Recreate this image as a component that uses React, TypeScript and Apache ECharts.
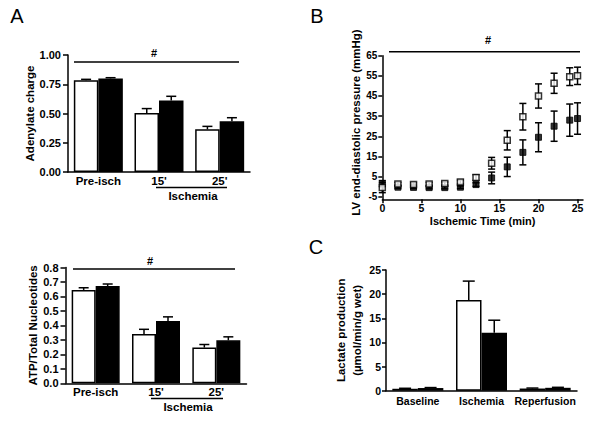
import React, { useEffect, useRef } from "react";
import * as echarts from "echarts";

const FONT = '"Liberation Sans", Arial, Helvetica, sans-serif';

// Panel A
const aCategories = ["Pre-isch", "15'", "25'"];
const adenWhite = [0.785, 0.505, 0.365];
const adenWhiteTop = [0.792, 0.542, 0.39];
const adenBlack = [0.8, 0.612, 0.434];
const adenBlackTop = [0.806, 0.647, 0.464];
const atpWhite = [0.645, 0.341, 0.247];
const atpWhiteTop = [0.66, 0.373, 0.268];
const atpBlack = [0.672, 0.43, 0.297];
const atpBlackTop = [0.686, 0.459, 0.321];

// Panel B
const timeMin = [0, 2, 4, 6, 8, 10, 12, 14, 16, 18, 20, 22, 24, 25];
const lvOpen = [-0.5, 1.3, 1.1, 1.3, 1.5, 2.3, 4.5, 11.6, 23.0, 34.7, 45.0, 51.3, 54.6, 55.0];
const lvOpenSem = [2.5, 0.8, 0.8, 0.8, 0.8, 1.0, 1.4, 2.9, 4.8, 6.6, 6.0, 5.0, 4.4, 4.3];
const lvFilled = [1.5, -0.3, -0.4, -0.5, -0.5, -0.3, 1.0, 4.3, 9.8, 17.0, 24.5, 30.0, 33.0, 33.8];
const lvFilledSem = [1.5, 0.6, 0.6, 0.6, 0.6, 0.6, 0.9, 2.9, 4.8, 6.2, 7.2, 7.5, 8.0, 7.8];
const lvXTicks = [0, 5, 10, 15, 20, 25];
const lvYTicks = [-5, 5, 15, 25, 35, 45, 55, 65];

// Panel C
const cCategories = ["Baseline", "Ischemia", "Reperfusion"];
const lacWhite = [0.4, 18.8, 0.45];
const lacWhiteTop = [0.5, 22.7, 0.55];
const lacBlack = [0.55, 12.0, 0.6];
const lacBlackTop = [0.65, 14.6, 0.7];

const txt = { color: "#000", fontFamily: FONT, fontWeight: "bold" as const };
const LW = 1.5;

function upperErr(offset: number, cap: number) {
  return (params: any, api: any) => {
    const x = api.value(0);
    const p0 = api.coord([x, api.value(1)]);
    const p1 = api.coord([x, api.value(2)]);
    const cx = p0[0] + offset;
    const st = { stroke: "#000", lineWidth: LW };
    return {
      type: "group",
      children: [
        { type: "line", shape: { x1: cx, y1: p0[1], x2: cx, y2: p1[1] }, style: st },
        { type: "line", shape: { x1: cx - cap, y1: p1[1], x2: cx + cap, y2: p1[1] }, style: st },
      ],
    };
  };
}

function bothErr(cap: number) {
  return (params: any, api: any) => {
    const x = api.value(0);
    const m = api.value(1);
    const s = api.value(2);
    const pt = api.coord([x, m + s]);
    const pb = api.coord([x, m - s]);
    const cx = pt[0];
    const st = { stroke: "#000", lineWidth: LW };
    return {
      type: "group",
      children: [
        { type: "line", shape: { x1: cx, y1: pt[1], x2: cx, y2: pb[1] }, style: st },
        { type: "line", shape: { x1: cx - cap, y1: pt[1], x2: cx + cap, y2: pt[1] }, style: st },
        { type: "line", shape: { x1: cx - cap, y1: pb[1], x2: cx + cap, y2: pb[1] }, style: st },
      ],
    };
  };
}

function barPair(gi: number, white: number[], whiteTop: number[], black: number[], blackTop: number[], bw: number, cap: number) {
  return [
    {
      type: "bar", xAxisIndex: gi, yAxisIndex: gi, data: white, barWidth: bw, barGap: "0%",
      itemStyle: { color: "#fff", borderColor: "#000", borderWidth: LW },
    },
    {
      type: "bar", xAxisIndex: gi, yAxisIndex: gi, data: black, barWidth: bw, barGap: "0%",
      itemStyle: { color: "#000", borderColor: "#000", borderWidth: LW },
    },
    {
      type: "custom", xAxisIndex: gi, yAxisIndex: gi, renderItem: upperErr(-bw / 2, cap),
      data: white.map((v, i) => [i, v, whiteTop[i]]), z: 5,
    },
    {
      type: "custom", xAxisIndex: gi, yAxisIndex: gi, renderItem: upperErr(bw / 2, cap),
      data: black.map((v, i) => [i, v, blackTop[i]]), z: 5,
    },
  ];
}

const axisLine = { show: true, onZero: false, lineStyle: { color: "#000", width: LW } };

export default function App() {
  const ref = useRef<HTMLDivElement>(null);
  useEffect(() => {
    if (!ref.current) return;
    const chart = echarts.init(ref.current, undefined, { renderer: "svg" });
    const catX = (gi: number, data: string[], margin: number, size: number) => ({
      type: "category", gridIndex: gi, data,
      axisLine, axisTick: { show: false },
      axisLabel: { ...txt, fontSize: size, margin, interval: 0 },
    });
    const yTick = { show: true, length: 5, lineStyle: { color: "#000", width: LW } };
    const option: any = {
      animation: false,
      backgroundColor: "#fff",
      grid: [
        { left: 68, top: 55, width: 182, height: 117, outerBoundsMode: "none" },
        { left: 65.5, top: 267.5, width: 181, height: 115.8, outerBoundsMode: "none" },
        { left: 382.3, top: 55.7, width: 200.7, height: 143.6, outerBoundsMode: "none" },
        { left: 386, top: 270, width: 191, height: 120.7, outerBoundsMode: "none" },
      ],
      xAxis: [
        catX(0, aCategories, 3, 11.5),
        catX(1, aCategories, 3, 11.5),
        {
          type: "value", gridIndex: 2, min: 0, max: 25.7,
          axisLine, splitLine: { show: false },
          axisTick: { show: true, length: 4, customValues: lvXTicks, lineStyle: { color: "#000", width: LW } },
          axisLabel: { ...txt, fontSize: 10.5, margin: 3, customValues: lvXTicks },
          name: "Ischemic Time (min)", nameLocation: "middle", nameGap: 16,
          nameTextStyle: { ...txt, fontSize: 11 },
        },
        catX(3, cCategories, 5, 10.5),
      ],
      yAxis: [
        {
          type: "value", gridIndex: 0, min: 0, max: 1, interval: 0.25,
          axisLine, axisTick: yTick, splitLine: { show: false },
          axisLabel: { ...txt, fontSize: 11, margin: 7, formatter: (v: number) => v.toFixed(2) },
          name: "Adenylate charge", nameLocation: "middle", nameGap: 31,
          nameTextStyle: { ...txt, fontSize: 11.5 },
        },
        {
          type: "value", gridIndex: 1, min: 0, max: 0.8, interval: 0.1,
          axisLine, axisTick: yTick, splitLine: { show: false },
          axisLabel: { ...txt, fontSize: 11, margin: 7, formatter: (v: number) => v.toFixed(1) },
          name: "ATP/Total Nucleotides", nameLocation: "middle", nameGap: 25,
          nameTextStyle: { ...txt, fontSize: 11.5 },
        },
        {
          type: "value", gridIndex: 2, min: -6.3, max: 65,
          axisLine, splitLine: { show: false },
          axisTick: { ...yTick, length: 4, customValues: lvYTicks },
          axisLabel: { ...txt, fontSize: 10, margin: 5, customValues: lvYTicks },
          name: "LV end-diastolic pressure (mmHg)", nameLocation: "middle", nameGap: 17,
          nameTextStyle: { ...txt, fontSize: 11.5, padding: [0, 0, 0, 10] },
        },
        {
          type: "value", gridIndex: 3, min: 0, max: 25, interval: 5,
          axisLine, axisTick: { ...yTick, length: 4 }, splitLine: { show: false },
          axisLabel: { ...txt, fontSize: 10.5, margin: 5 },
          name: "Lactate production\n(µmol/min/g wet)", nameLocation: "middle", nameGap: 14,
          nameTextStyle: { ...txt, fontSize: 11.5, lineHeight: 16 },
        },
      ],
      series: [
        ...barPair(0, adenWhite, adenWhiteTop, adenBlack, adenBlackTop, 24.5, 5),
        ...barPair(1, atpWhite, atpWhiteTop, atpBlack, atpBlackTop, 24, 5),
        ...barPair(3, lacWhite, lacWhiteTop, lacBlack, lacBlackTop, 25.5, 6),
        {
          type: "custom", xAxisIndex: 2, yAxisIndex: 2, renderItem: bothErr(3.5),
          data: timeMin.map((t, i) => [t, lvFilled[i], lvFilledSem[i]]), z: 3,
        },
        {
          type: "scatter", xAxisIndex: 2, yAxisIndex: 2, symbol: "rect", symbolSize: 6,
          data: timeMin.map((t, i) => [t, lvFilled[i]]),
          itemStyle: { color: "#000", borderColor: "#000", borderWidth: 1 }, z: 4,
        },
        {
          type: "custom", xAxisIndex: 2, yAxisIndex: 2, renderItem: bothErr(3.5),
          data: timeMin.map((t, i) => [t, lvOpen[i], lvOpenSem[i]]), z: 5,
        },
        {
          type: "scatter", xAxisIndex: 2, yAxisIndex: 2, symbol: "rect", symbolSize: 6,
          data: timeMin.map((t, i) => [t, lvOpen[i]]),
          itemStyle: { color: "#fff", borderColor: "#000", borderWidth: 1.5 }, z: 6,
        },
      ],
      graphic: [
        { type: "text", x: 17, y: 16, style: { text: "A", fontSize: 20, fontFamily: FONT, fill: "#000", align: "center", verticalAlign: "middle" } },
        { type: "text", x: 317, y: 16, style: { text: "B", fontSize: 20, fontFamily: FONT, fill: "#000", align: "center", verticalAlign: "middle" } },
        { type: "text", x: 316, y: 247, style: { text: "C", fontSize: 20, fontFamily: FONT, fill: "#000", align: "center", verticalAlign: "middle" } },
        // significance bars
        { type: "line", shape: { x1: 74, y1: 62, x2: 239, y2: 62 }, style: { stroke: "#000", lineWidth: LW } },
        { type: "text", x: 154, y: 53, style: { text: "#", fontSize: 11, fontWeight: "bold", fontFamily: FONT, fill: "#000", align: "center", verticalAlign: "middle" } },
        { type: "line", shape: { x1: 73, y1: 269, x2: 235, y2: 269 }, style: { stroke: "#000", lineWidth: LW } },
        { type: "text", x: 150, y: 261, style: { text: "#", fontSize: 11, fontWeight: "bold", fontFamily: FONT, fill: "#000", align: "center", verticalAlign: "middle" } },
        { type: "line", shape: { x1: 389, y1: 51.7, x2: 580, y2: 51.7 }, style: { stroke: "#000", lineWidth: LW } },
        { type: "text", x: 488, y: 40, style: { text: "#", fontSize: 11, fontWeight: "bold", fontFamily: FONT, fill: "#000", align: "center", verticalAlign: "middle" } },
        // Ischemia group labels
        { type: "line", shape: { x1: 156, y1: 187.5, x2: 227, y2: 187.5 }, style: { stroke: "#000", lineWidth: LW } },
        { type: "text", x: 193, y: 196, style: { text: "Ischemia", fontSize: 11.5, fontWeight: "bold", fontFamily: FONT, fill: "#000", align: "center", verticalAlign: "middle" } },
        { type: "line", shape: { x1: 151, y1: 398.5, x2: 223, y2: 398.5 }, style: { stroke: "#000", lineWidth: LW } },
        { type: "text", x: 188, y: 406.5, style: { text: "Ischemia", fontSize: 11.5, fontWeight: "bold", fontFamily: FONT, fill: "#000", align: "center", verticalAlign: "middle" } },
      ],
    };
    chart.setOption(option);
    return () => chart.dispose();
  }, []);
  return (
    <div
      ref={ref}
      style={{ position: "fixed", left: 0, top: 0, width: 600, height: 422, background: "#fff" }}
    />
  );
}
